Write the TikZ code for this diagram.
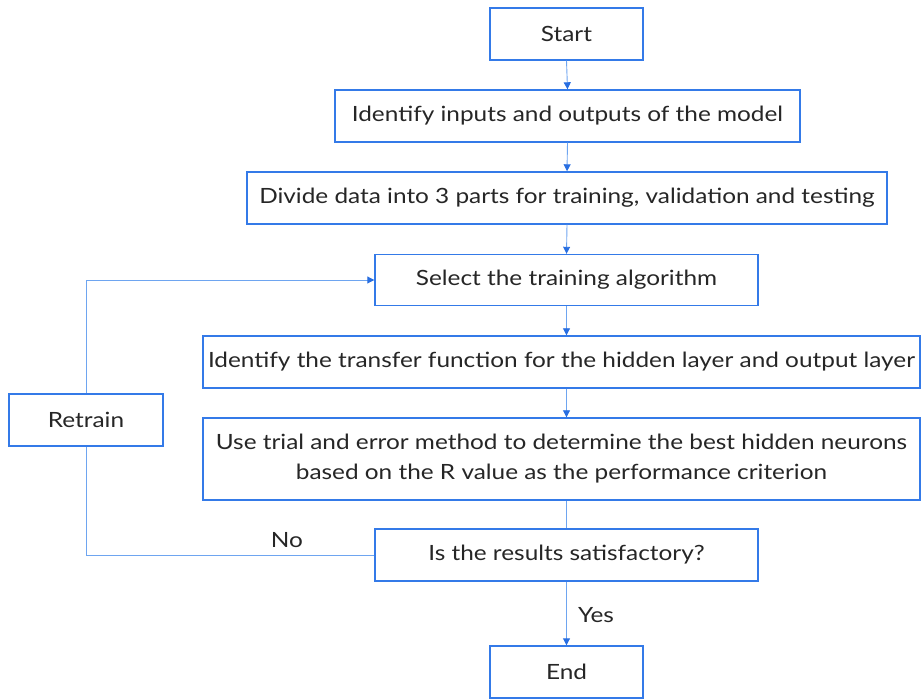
\documentclass[tikz,border=0pt]{standalone}
\usepackage{fontspec}
\setmainfont{Lato}[FakeStretch=1.16]
\usetikzlibrary{arrows.meta}
\definecolor{boxblue}{RGB}{52,122,232}
\definecolor{lineblue}{RGB}{110,165,240}
\definecolor{tipblue}{RGB}{40,110,225}
\tikzset{
  box/.style={draw=boxblue, line width=1.4pt, fill=white, inner sep=0pt, align=center,
    font=\fontsize{21}{30}\selectfont, text=black!85},
  conn/.style={draw=lineblue, line width=0.9pt},
  arr/.style={conn, -{Triangle[length=7pt,width=7pt,color=tipblue]}},
  lbl/.style={font=\fontsize{21}{24}\selectfont, text=black!85}
}
\begin{document}
\begin{tikzpicture}[x=1pt,y=-1pt]
\useasboundingbox (0,0) rectangle (921,700);
\node[box, minimum width=153, minimum height=52] (start) at (566.5,34) {Start};
\node[box, minimum width=465, minimum height=52] (inp) at (567.5,116) {Identify inputs and outputs of the model};
\node[box, minimum width=640, minimum height=52] (div) at (567,198) {Divide data into 3 parts for training, validation and testing};
\node[box, minimum width=383, minimum height=51] (sel) at (566.5,280) {Select the training algorithm};
\node[box, minimum width=717, minimum height=52] (tf) at (561.5,362) {Identify the transfer function for the hidden layer and output layer};
\node[box, minimum width=717, minimum height=82] (trial) at (561.5,459) {Use trial and error method to determine the best hidden neurons\\based on the R value as the performance criterion};
\node[box, minimum width=383, minimum height=52] (res) at (566.5,555) {Is the results satisfactory?};
\node[box, minimum width=153, minimum height=52] (end) at (566.5,672) {End};
\node[box, minimum width=154, minimum height=52] (ret) at (86,420) {Retrain};
\draw[arr] (start.south) -- (inp.north);
\draw[arr] (inp.south) -- (div.north);
\draw[arr] (div.south) -- (sel.north);
\draw[arr] (sel.south) -- (sel.south |- tf.north);
\draw[arr] (sel.south |- tf.south) -- (sel.south |- trial.north);
\draw[conn] (sel.south |- trial.south) -- (res.north);
\draw[arr] (res.south) -- (end.north);
\draw[conn] (res.west) -| (ret.south);
\draw[arr] (ret.north) |- (sel.west);
\node[lbl] (no) at (287,540) {No};
\node[lbl] (yes) at (596,615) {Yes};
\end{tikzpicture}
\end{document}
